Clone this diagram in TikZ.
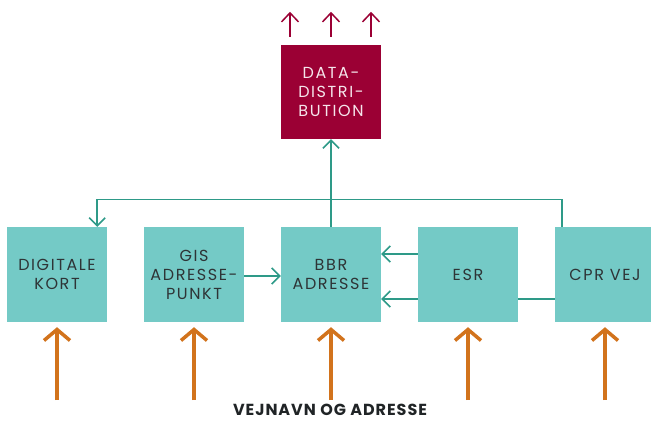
\documentclass[tikz,border=0pt]{standalone}
\usepackage{fontspec}
\setmainfont{Poppins}
\newfontfamily\boxfont[LetterSpace=10]{Poppins}
\newfontfamily\titlefont[LetterSpace=6]{Poppins Bold}
\usetikzlibrary{arrows.meta,backgrounds}
\definecolor{boxteal}{HTML}{74CAC6}
\definecolor{lineteal}{HTML}{2E9A88}
\definecolor{wine}{HTML}{9B0034}
\definecolor{orng}{HTML}{D2731C}
\definecolor{txt}{HTML}{2E3436}
\tikzset{
  srcbox/.style={rectangle, fill=boxteal, minimum width=100pt, minimum height=95pt,
    inner sep=0pt, align=center, text=txt, font=\boxfont\fontsize{16}{19}\selectfont},
  distbox/.style={rectangle, fill=wine, minimum width=100pt, minimum height=94pt,
    inner sep=0pt, align=center, text=white!90!wine, font=\boxfont\fontsize{16}{19}\selectfont},
  conn/.style={draw=lineteal, line width=1.5pt, -{Straight Barb[length=8pt,width=16pt,line width=1.5pt]}},
  outarrow/.style={draw=wine, line width=1.5pt, -{Straight Barb[length=9pt,width=17pt,line width=1.5pt]}},
  inarrow/.style={draw=orng, line width=3.5pt, -{Straight Barb[length=11pt,width=26pt,line width=3.5pt]}}
}
\begin{document}
\begin{tikzpicture}[x=1pt,y=-1pt]
\useasboundingbox (0,0) rectangle (651,421);
\node[distbox] (data) at (331,92) {DATA-\\DISTRI-\\BUTION};
\node[srcbox] (digi) at (57,274.5) {DIGITALE\\KORT};
\node[srcbox] (gis) at (194,274.5) {GIS\\ADRESSE-\\PUNKT};
\node[srcbox] (bbr) at (331,274.5) {BBR\\ADRESSE};
\node[srcbox] (esr) at (468,274.5) {ESR};
\node[srcbox] (cpr) at (605,274.5) {CPR VEJ};
\begin{scope}[on background layer]
\fill[white] (0,0) rectangle (651,421);
\draw[conn] ([yshift=-24.5pt]cpr.west) -- ([yshift=-24.5pt]bbr.east);
\end{scope}
\draw[conn] ([yshift=20.5pt]esr.west) -- ([yshift=20.5pt]bbr.east);
\draw[conn] ([yshift=-1.5pt]gis.east) -- ([yshift=-1.5pt]bbr.west);
\draw[conn] (bbr.north) -- (data.south);
\draw[conn] ([xshift=7pt]cpr.north west) -- ++(0,-27.5) -| ([xshift=-10pt]digi.north east);
\foreach \dx in {-41,0,40} {
  \draw[outarrow] ([xshift=\dx pt,yshift=8pt]data.north) -- ++(0,-25);
}
\foreach \n in {digi,gis,bbr,esr,cpr} {
  \draw[inarrow] ([yshift=-78pt]\n.south) -- ([yshift=-5pt]\n.south);
}
\node[anchor=base, inner sep=0pt, text=txt!70!black, font=\titlefont\fontsize{16}{18}\selectfont] (title) at (330,415) {VEJNAVN OG ADRESSE};
\end{tikzpicture}
\end{document}
